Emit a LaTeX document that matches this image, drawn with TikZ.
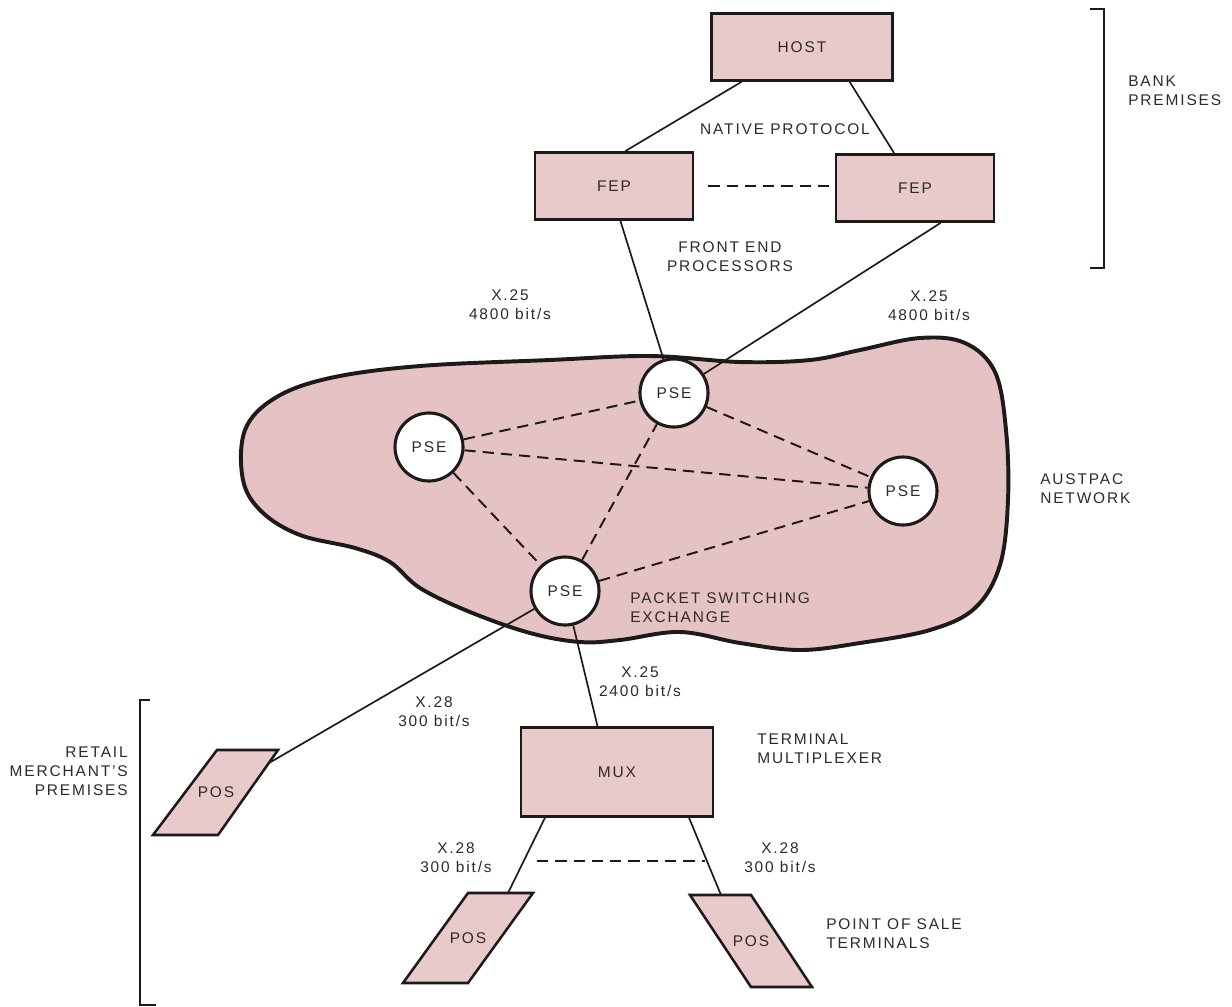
\documentclass[tikz,border=0pt]{standalone}
\usepackage{fontspec}
\setmainfont{Liberation Sans}[LetterSpace=12]
\usetikzlibrary{calc}
\definecolor{boxPink}{HTML}{E8CACB}
\definecolor{cloudPink}{HTML}{E5C3C5}
\definecolor{inkDark}{HTML}{1E1A1A}
\definecolor{txtDark}{HTML}{2E2A2A}
\newcommand{\diagfont}{\fontsize{11}{13.4}\selectfont}
\tikzset{
  unit/.style={draw=inkDark, fill=boxPink, line width=1.8pt,
    minimum width=3.95cm, minimum height=1.68cm, font=\diagfont, text=txtDark},
  pse/.style={circle, draw=inkDark, fill=white, line width=2.2pt,
    minimum size=1.7cm, inner sep=0pt, font=\diagfont, text=txtDark},
  posshape/.style={draw=inkDark, fill=boxPink, line width=1.8pt, line join=miter},
  cloud/.style={draw=inkDark, fill=cloudPink, line width=2.8pt},
  link/.style={draw=inkDark, line width=1.2pt},
  dlink/.style={draw=inkDark, line width=1.4pt, dash pattern=on 8pt off 5pt},
  brace/.style={draw=inkDark, line width=1.4pt},
  lbl/.style={font=\diagfont, text=txtDark, align=center, inner sep=0pt},
  lbll/.style={lbl, align=left, anchor=west},
  lblr/.style={lbl, align=right, anchor=east}
}
\begin{document}
\begin{tikzpicture}[x=0.025cm,y=-0.025cm]
  % frame in pixel units of the reference
  \fill[white] (0,0) rectangle (1232,1007);
  \useasboundingbox (0,0) rectangle (1232,1007);

  % Austpac network cloud
  \draw[cloud] plot[smooth cycle, tension=0.6] coordinates {
    (245,430) (275,398) (330,378) (420,366) (550,360) (650,356) (740,362)
    (810,360) (860,350) (920,338) (965,343) (995,372) (1006,430) (1008,500)
    (1000,565) (975,608) (930,630) (860,643) (800,650) (740,643) (680,632)
    (620,640) (580,642) (530,633) (470,612) (420,588) (390,562) (355,548)
    (300,535) (262,512) (243,480)};

  % bank side
  \node[unit, minimum width=4.52cm] (host) at (802,47) {HOST};
  \node[unit] (fepL) at (614,186) {FEP};
  \node[unit] (fepR) at (915,188) {FEP};

  % packet switching exchanges
  \node[pse] (pseT) at (674,393) {PSE};
  \node[pse] (pseL) at (429,447) {PSE};
  \node[pse] (pseR) at (903,491) {PSE};
  \node[pse] (pseB) at (565,591) {PSE};

  % terminal side
  \node[unit, minimum width=4.8cm, minimum height=2.22cm] (mux) at (617,772) {MUX};

  \coordinate (posA) at (216,792);
  \coordinate (posB) at (468,938);
  \coordinate (posC) at (751,941);
  \draw[posshape] ($(posA)+(1,-42)$) -- ($(posA)+(62,-42)$) -- ($(posA)+(2,43)$) -- ($(posA)+(-63,43)$) -- cycle;
  \draw[posshape] ($(posB)+(0,-45)$) -- ($(posB)+(65,-45)$) -- ($(posB)+(0,45)$) -- ($(posB)+(-65,45)$) -- cycle;
  \draw[posshape] ($(posC)+(-61,-46)$) -- ($(posC)+(0,-46)$) -- ($(posC)+(61,46)$) -- ($(posC)+(0,46)$) -- cycle;
  \node[lbl] (posAtxt) at (posA) {POS};
  \node[lbl] (posBtxt) at (posB) {POS};
  \node[lbl] (posCtxt) at (posC) {POS};
  \coordinate (posA-in) at ($(posA)+(53,-29)$);
  \coordinate (posB-in) at ($(posB)+(40,-45)$);
  \coordinate (posC-in) at ($(posC)+(-30,-46)$);

  % links
  \draw[link] ($(host.south west)!0.17!(host.south east)$) -- ($(fepL.north west)!0.57!(fepL.north east)$);
  \draw[link] ($(host.south west)!0.76!(host.south east)$) -- ($(fepR.north west)!0.37!(fepR.north east)$);
  \draw[dlink] ([xshift=10pt]fepL.east) -- (fepL.east -| fepR.west);
  \draw[link] ($(fepL.south west)!0.54!(fepL.south east)$) -- (pseT);
  \draw[link] ($(fepR.south west)!0.66!(fepR.south east)$) -- (pseT);
  \draw[dlink] (pseL) -- (pseT);
  \draw[dlink] (pseT) -- (pseR);
  \draw[dlink] (pseL) -- (pseR);
  \draw[dlink] (pseL) -- (pseB);
  \draw[dlink] (pseB) -- (pseT);
  \draw[dlink] (pseB) -- (pseR);
  \draw[link] (pseB) -- (posA-in);
  \draw[link] (pseB) -- ($(mux.north west)!0.40!(mux.north east)$);
  \draw[link] ($(mux.south west)!0.13!(mux.south east)$) -- (posB-in);
  \draw[link] ($(mux.south west)!0.87!(mux.south east)$) -- (posC-in);
  \draw[dlink] (537,861) -- (705,861);

  % labels
  \node[lbl] (native) at (785,129) {NATIVE PROTOCOL};
  \node[lbl] (fepnote) at (730,257) {FRONT END\\PROCESSORS};
  \node[lbl] (rateL) at (510,305) {X.25\\4800 bit/s};
  \node[lbl] (rateR) at (929,306) {X.25\\4800 bit/s};
  \node[lbll] (austpac) at (1040,489) {AUSTPAC\\NETWORK};
  \node[lbll] (psenote) at (630,608) {PACKET SWITCHING\\EXCHANGE};
  \node[lbl] (rateA) at (434,712) {X.28\\300 bit/s};
  \node[lbl] (rateM) at (640,682) {X.25\\2400 bit/s};
  \node[lbll] (muxnote) at (757,749) {TERMINAL\\MULTIPLEXER};
  \node[lbl] (rateB) at (456,858) {X.28\\300 bit/s};
  \node[lbl] (rateC) at (780,858) {X.28\\300 bit/s};
  \node[lbll] (posnote) at (826,934) {POINT OF SALE\\TERMINALS};
  \node[lblr] (retail) at (128,771) {RETAIL\\MERCHANT'S\\PREMISES};
  \node[lbll] (bank) at (1128,91) {BANK\\PREMISES};

  % premises brackets
  \draw[brace] (1090,9) -- (1104,9) -- (1104,268) -- (1090,268);
  \draw[brace] (150,700) -- (140,700) -- (140,1005) -- (156,1005);
\end{tikzpicture}
\end{document}
